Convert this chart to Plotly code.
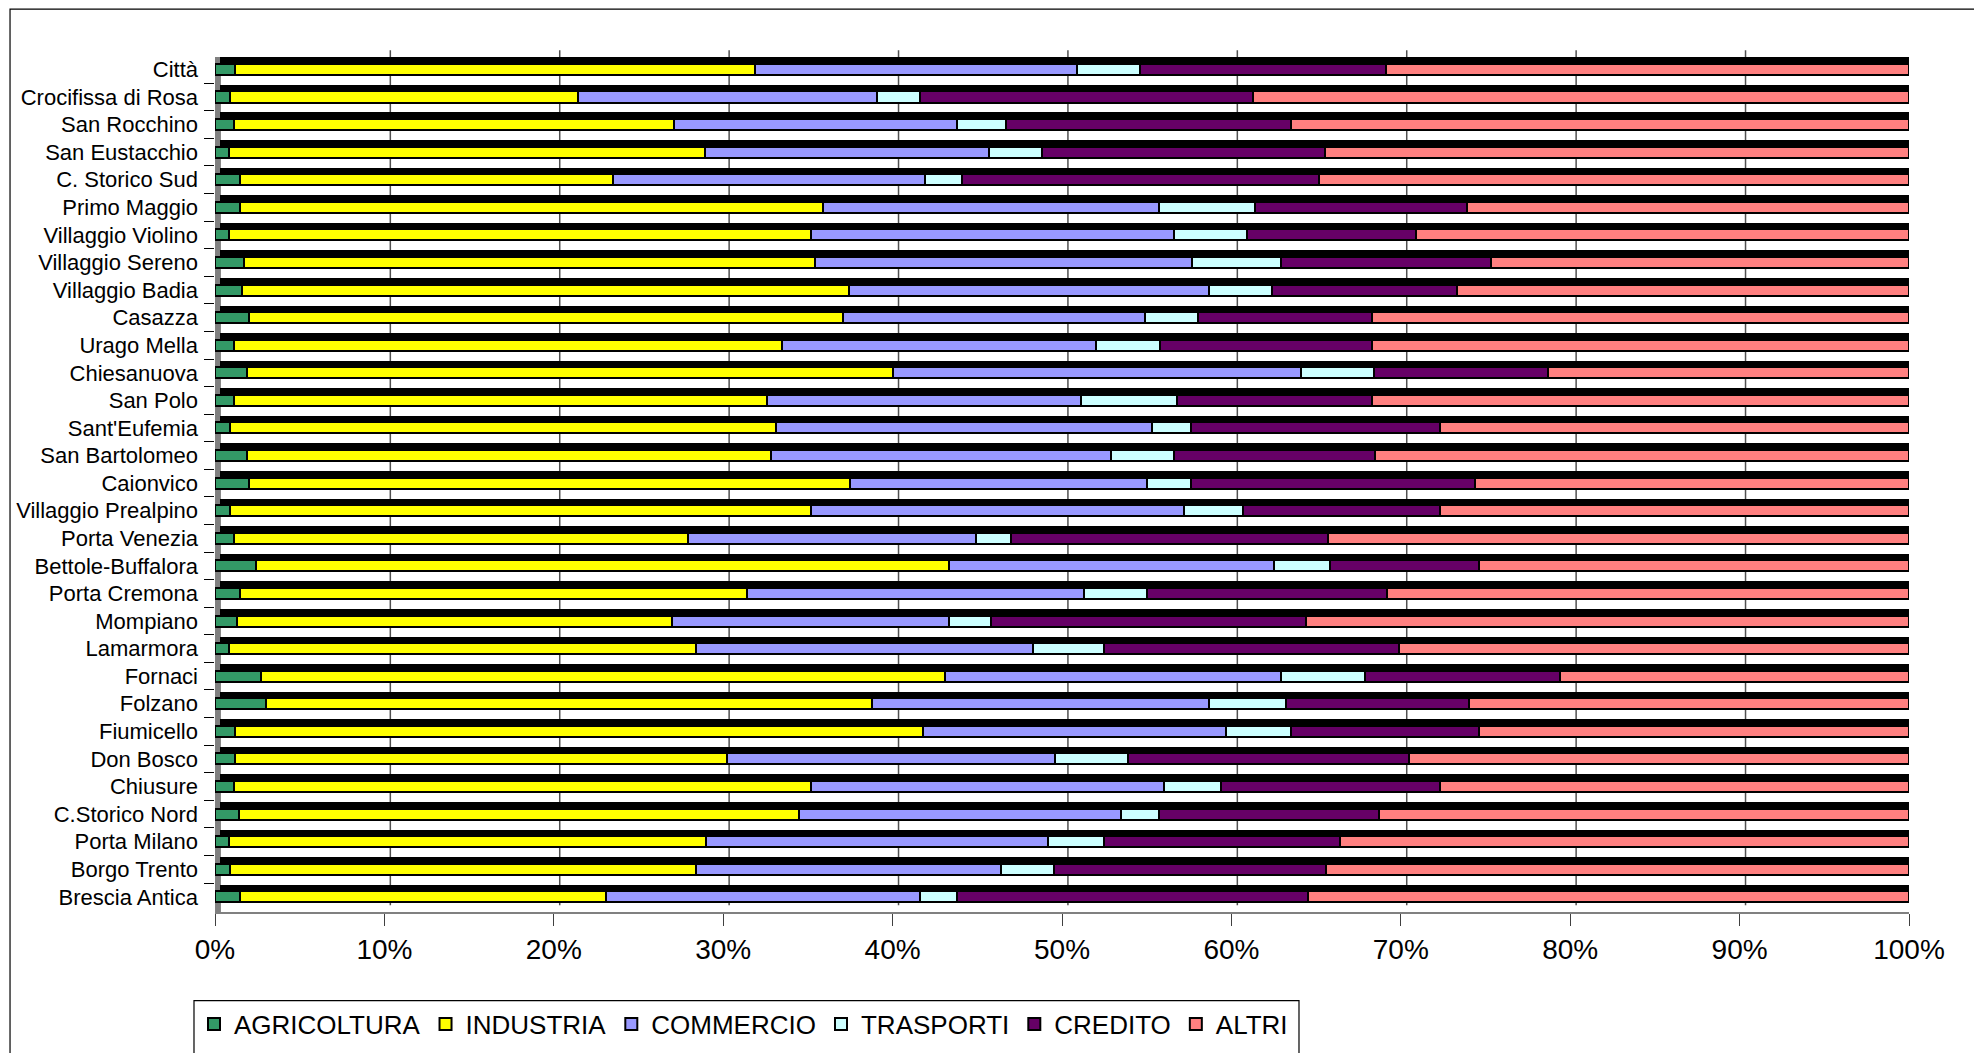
import plotly.graph_objects as go

# zone (top to bottom) and sector shares, percent of employees
zone = ["Città", "Crocifissa di Rosa", "San Rocchino", "San Eustacchio", "C. Storico Sud",
        "Primo Maggio", "Villaggio Violino", "Villaggio Sereno", "Villaggio Badia", "Casazza",
        "Urago Mella", "Chiesanuova", "San Polo", "Sant'Eufemia", "San Bartolomeo",
        "Caionvico", "Villaggio Prealpino", "Porta Venezia", "Bettole-Buffalora", "Porta Cremona",
        "Mompiano", "Lamarmora", "Fornaci", "Folzano", "Fiumicello",
        "Don Bosco", "Chiusure", "C.Storico Nord", "Porta Milano", "Borgo Trento",
        "Brescia Antica"]

agricoltura = [1.2, 0.9, 1.1, 0.8, 1.5, 1.5, 0.8, 1.7, 1.6, 2.0, 1.1, 1.9, 1.1, 0.9, 1.9, 2.0,
               0.9, 1.1, 2.4, 1.5, 1.3, 0.8, 2.7, 3.0, 1.2, 1.2, 1.1, 1.4, 0.8, 0.9, 1.5]
industria = [30.7, 20.5, 26.0, 28.1, 22.0, 34.4, 34.4, 33.7, 35.8, 35.1, 32.4, 38.1, 31.5, 32.2,
             30.9, 35.5, 34.3, 26.8, 40.9, 29.9, 25.7, 27.6, 40.4, 35.8, 40.6, 29.0, 34.1, 33.1,
             28.2, 27.5, 21.6]
commercio = [19.0, 17.7, 16.7, 16.8, 18.4, 19.8, 21.4, 22.3, 21.3, 17.8, 18.5, 24.1, 18.5, 22.2,
             20.1, 17.5, 22.0, 17.0, 19.2, 19.9, 16.3, 19.9, 19.8, 19.9, 17.9, 19.4, 20.8, 19.0,
             20.2, 18.0, 18.5]
trasporti = [3.7, 2.5, 2.9, 3.1, 2.2, 5.7, 4.3, 5.2, 3.7, 3.1, 3.8, 4.3, 5.7, 2.3, 3.7, 2.6,
             3.5, 2.1, 3.3, 3.7, 2.5, 4.2, 5.0, 4.5, 3.8, 4.3, 3.4, 2.2, 3.3, 3.1, 2.2]
credito = [14.5, 19.7, 16.8, 16.7, 21.1, 12.5, 10.0, 12.4, 10.9, 10.3, 12.5, 10.3, 11.5, 14.7,
           11.9, 16.8, 11.6, 18.7, 8.8, 14.2, 18.6, 17.4, 11.5, 10.8, 11.1, 16.6, 12.9, 13.0,
           13.9, 16.1, 20.7]
altri = [30.9, 38.7, 36.5, 34.5, 34.8, 26.1, 29.1, 24.7, 26.7, 31.7, 31.7, 21.3, 31.7, 27.7,
         31.5, 25.6, 27.7, 34.3, 25.4, 30.8, 35.6, 30.1, 20.6, 26.0, 25.4, 29.5, 27.7, 31.3,
         33.6, 34.4, 35.5]

settori = ["AGRICOLTURA", "INDUSTRIA", "COMMERCIO", "TRASPORTI", "CREDITO", "ALTRI"]
serie = [agricoltura, industria, commercio, trasporti, credito, altri]
colori = ["#339966", "#FFFF00", "#9999FF", "#CCFFFF", "#660066", "#FF8080"]

griglia = list(range(10, 100, 10))  # back-wall gridlines

FONT = "Liberation Sans, Arial, sans-serif"
BAR_W = 0.40
LIFT = 0.05   # front faces sit a bit above the slot centre
DEPTH = 0.22  # how far the dark top face shows above the front face
SHIFT = 0.35  # back faces / back wall sit this many percent to the right

fig = go.Figure()

# dark top faces (fake 3D depth), on the main axes so they stay behind the front bars
for nome, valori in zip(settori, serie):
    fig.add_trace(go.Bar(
        y=zone, x=valori, orientation="h", width=BAR_W,
        marker=dict(color="#000000", line=dict(color="#000000", width=1)),
        showlegend=False, hoverinfo="skip",
        xaxis="x", yaxis="y",
    ))

# front faces
for nome, valori, col in zip(settori, serie, colori):
    fig.add_trace(go.Bar(
        y=zone, x=valori, orientation="h", width=BAR_W, name=nome,
        marker=dict(color=col, line=dict(color="#000000", width=2)),
        xaxis="x2", yaxis="y2",
    ))

n = len(zone)
shapes = [
    # chart area border (runs off the page right and bottom, like the original)
    dict(type="rect", xref="paper", yref="paper", x0=-0.121, x1=1.2, y0=-0.5, y1=1.0561,
         line=dict(color="black", width=1.2), layer="below"),
    # legend frame
    dict(type="rect", xref="paper", yref="paper", x0=-0.0124, x1=0.6399, y0=-0.3, y1=-0.1037,
         line=dict(color="black", width=1.2), layer="below"),
    # grey side wall
    dict(type="rect", xref="paper", yref="paper", x0=0, x1=SHIFT / 100, y0=0, y1=1,
         fillcolor="#808080", line=dict(width=0), layer="below"),
]
# back-wall gridlines, offset like the bars' back faces
for p in griglia:
    gx = (p + SHIFT) / 100
    shapes.append(dict(type="line", xref="paper", yref="paper", x0=gx, x1=gx, y0=0.008, y1=1.008,
                       line=dict(color="#505050", width=1.5), layer="below"))

# the page body has an 8px margin, so the figure is 8px smaller each way
fig.update_layout(
    width=1974, height=1045,
    margin=dict(l=207, r=73, t=49, b=141, autoexpand=False),
    barmode="stack", barnorm="percent",
    paper_bgcolor="white", plot_bgcolor="rgba(0,0,0,0)",
    font=dict(family=FONT, color="black"),
    xaxis=dict(range=[-SHIFT, 100 - SHIFT], showgrid=False, zeroline=False,
               showticklabels=False, ticks="", showline=False),
    yaxis=dict(type="category", categoryorder="array", categoryarray=zone,
               range=[n - 0.5 + DEPTH + LIFT, -0.5 + DEPTH + LIFT], showticklabels=False,
               ticks="", showgrid=False, zeroline=False, showline=False),
    xaxis2=dict(overlaying="x", anchor="y2", side="bottom", range=[0, 100], tick0=0, dtick=10,
                ticksuffix="%", ticks="outside", ticklen=12, tickcolor="#404040",
                showline=True, linecolor="#808080", linewidth=1.5, showgrid=False,
                zeroline=False, tickfont=dict(size=28, family=FONT)),
    yaxis2=dict(overlaying="y", anchor="x2", side="left", type="category",
                categoryorder="array", categoryarray=zone,
                range=[n - 0.5 + LIFT, -0.5 + LIFT],
                tickson="boundaries", ticks="outside", ticklen=10, tickcolor="black",
                ticklabelstandoff=16, showgrid=False, zeroline=False, showline=False,
                tickfont=dict(size=22, family=FONT)),
    legend=dict(orientation="h", x=-0.0124, y=-0.1037, xanchor="left", yanchor="top",
                font=dict(size=26, family=FONT), bgcolor="rgba(0,0,0,0)", borderwidth=0,
                traceorder="normal"),
    shapes=shapes,
)

fig.write_html("out.html")
